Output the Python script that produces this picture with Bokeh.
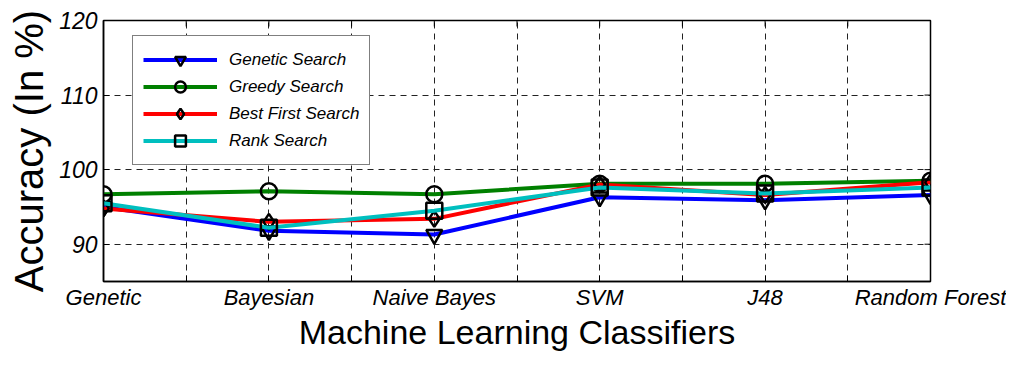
from bokeh.plotting import figure
from bokeh.models import Range1d, FixedTicker, Legend, LegendItem, ColumnDataSource
from bokeh.embed import file_html
from bokeh.resources import INLINE

categories = ["Genetic", "Bayesian", "Naive Bayes", "SVM", "J48", "Random Forest"]
x_pos = [1, 2, 3, 4, 5, 6]
genetic_search = [95.0, 91.8, 91.3, 96.3, 95.9, 96.6]
greedy_search = [96.7, 97.1, 96.7, 98.1, 98.1, 98.5]
best_first_search = [94.8, 93.0, 93.4, 98.0, 96.6, 98.3]
rank_search = [95.5, 92.2, 94.5, 97.6, 96.8, 97.6]

series = [
    ("Genetic Search", genetic_search, "#0000FF", "inverted_triangle"),
    ("Greedy Search", greedy_search, "#008000", "circle"),
    ("Best First Search", best_first_search, "#FF0000", "diamond"),
    ("Rank Search", rank_search, "#00BFBF", "square"),
]

x_ticks = [1 + 0.5 * i for i in range(11)]
y_ticks = [90, 100, 110, 120]
X0, X1, Y0, Y1 = 1, 6, 85, 120

FONT = "Liberation Sans"
W, H = 1006, 353
BL, BR, BT, BB = 103, 76, 20, 72
px_per_y = (H - BT - BB) / (Y1 - Y0)

p = figure(width=W, height=H, output_backend="svg", toolbar_location=None,
           x_range=Range1d(X0, X1), y_range=Range1d(Y0, Y1),
           min_border_left=BL, min_border_right=BR, min_border_top=BT,
           min_border_bottom=BB, background_fill_color="white",
           border_fill_color="white")

overrides = {t: (categories[int(t) - 1] if t == int(t) else "") for t in x_ticks}
p.xaxis.ticker = FixedTicker(ticks=x_ticks)
p.xaxis.major_label_overrides = overrides
p.yaxis.ticker = FixedTicker(ticks=y_ticks)

for ax in (p.xaxis, p.yaxis):
    ax.major_tick_in = 6
    ax.major_tick_out = 0
    ax.minor_tick_in = 0
    ax.minor_tick_out = 0
    ax.major_label_text_font = FONT
    ax.major_label_text_font_style = "italic"
    ax.major_label_text_color = "black"
    ax.axis_line_color = "black"
    ax.axis_line_width = 1.5
    ax.major_tick_line_color = "black"
    ax.axis_label_text_font = FONT
    ax.axis_label_text_font_style = "normal"
    ax.axis_label_text_color = "black"

p.xaxis.major_label_text_font_size = "22px"
p.yaxis.major_label_text_font_size = "23px"
p.xaxis.major_label_standoff = 3
p.yaxis.major_label_standoff = 6
p.xaxis.axis_label = "Machine Learning Classifiers"
p.xaxis.axis_label_text_font_size = "34px"
p.xaxis.axis_label_standoff = 0
p.yaxis.axis_label = "Accuracy (In %)"
p.yaxis.axis_label_text_font_size = "40px"
p.yaxis.axis_label_standoff = 5

p.xgrid.ticker = FixedTicker(ticks=x_ticks[1:-1])
p.ygrid.ticker = FixedTicker(ticks=y_ticks[:-1])
for g in (p.xgrid, p.ygrid):
    g.grid_line_color = "#222222"
    g.grid_line_dash = "6 5"
    g.grid_line_width = 1

p.outline_line_color = "black"
p.outline_line_width = 1.5

# inward ticks on top and right edges (MATLAB style box)
tick_len_y = 6 / px_per_y
tick_len_x = 6 * (X1 - X0) / (W - BL - BR)
p.segment(x0=x_ticks, y0=[Y1] * len(x_ticks), x1=x_ticks, y1=[Y1 - tick_len_y] * len(x_ticks),
          line_color="black", line_width=1)
p.segment(x0=[X1] * len(y_ticks), y0=y_ticks, x1=[X1 - tick_len_x] * len(y_ticks), y1=y_ticks,
          line_color="black", line_width=1)

items = []
for name, vals, color, marker in series:
    src = ColumnDataSource(dict(x=x_pos, y=vals))
    ln = p.line("x", "y", source=src, line_color=color, line_width=4)
    sc = p.scatter("x", "y", source=src, marker=marker, size=16,
                   line_color="black", line_width=2.5, fill_alpha=0)
    items.append(LegendItem(label=name, renderers=[ln, sc]))

legend = Legend(items=items, location=(29, 116), orientation="vertical",
                label_text_font=FONT, label_text_font_style="italic",
                label_text_font_size="17px", label_text_color="black",
                glyph_width=74, glyph_height=27, label_height=27,
                label_standoff=12, spacing=0, padding=10, margin=0,
                border_line_color="black", border_line_width=1,
                background_fill_color="white", background_fill_alpha=1)
p.add_layout(legend, "center")

open("out.html", "w").write(file_html(p, INLINE))
